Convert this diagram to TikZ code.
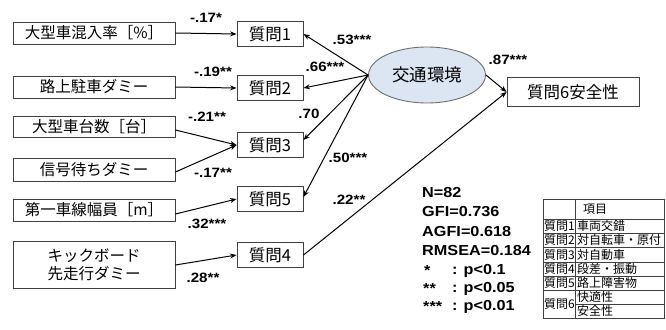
\documentclass[tikz,border=0pt]{standalone}
\usepackage{fontspec}
\setmainfont{Liberation Sans}
\newfontfamily\jp{Noto Sans CJK JP}
\newfontfamily\lab[FakeStretch=1.12]{Liberation Sans}
\usetikzlibrary{shapes.geometric,arrows.meta,calc}
\definecolor{boxline}{HTML}{404040}
\definecolor{ellfill}{HTML}{DCE6F2}
\definecolor{ellline}{HTML}{6E6E6E}
\begin{document}
\begin{tikzpicture}[x=1pt,y=-1pt,
  box/.style={draw=boxline, line width=0.9pt, fill=white, inner sep=0pt, font=\jp\fontsize{15.5}{18}\selectfont},
  lbox/.style={box, minimum width=162pt, minimum height=22pt},
  qbox/.style={box, minimum width=66pt, minimum height=25pt, font=\jp\fontsize{16.5}{18}\selectfont},
  lbl/.style={font=\lab\bfseries\fontsize{13.5}{15}\selectfont, inner sep=0pt},
  stat/.style={font=\lab\bfseries\fontsize{14.5}{16}\selectfont, inner sep=0pt, anchor=west},
  tab/.style={font=\jp\fontsize{12}{12}\selectfont, inner sep=0pt, anchor=west},
  arr/.style={-{Stealth[length=6.5pt,width=5pt]}, line width=1pt},
  tline/.style={draw=black!75, line width=0.6pt}
]
\useasboundingbox (0,0) rectangle (666,329);

% left boxes
\node[lbox] (a1) at (94,33) {大型車混入率［\%］};
\node[lbox] (a2) at (94,87) {路上駐車ダミー};
\node[lbox, minimum height=21pt] (a3) at (94,127) {大型車台数［台］};
\node[lbox, minimum height=23pt] (a4) at (94,170) {信号待ちダミー};
\node[lbox] (a5) at (94,210) {第一車線幅員［m］};
\node[lbox, minimum height=47pt, align=center] (a6) at (94,265) {キックボード\\先走行ダミー};

% question boxes
\node[qbox] (q1) at (270,34) {質問1};
\node[qbox] (q2) at (270,88) {質問2};
\node[qbox] (q3) at (270,145) {質問3};
\node[qbox] (q5) at (270,199) {質問5};
\node[qbox] (q4) at (270,255) {質問4};

% latent variable
\node[ellipse, draw=ellline, line width=0.9pt, fill=ellfill, minimum width=117pt, minimum height=56pt, inner sep=0pt,
      font=\jp\fontsize{17.5}{19}\selectfont] (el) at (427,75) {交通環境};

% outcome
\node[box, minimum width=132pt, minimum height=29pt, font=\jp\fontsize{16.5}{18}\selectfont] (q6) at (573,92) {質問6安全性};

% arrows from observed variables
\draw[arr] (a1.east) -- (q1.west);
\draw[arr] (a2.east) -- (q2.west);
\draw[arr] ($(a3.east)+(0,3)$) -- (q3.west);
\draw[arr] ($(a4.east)+(0,2)$) -- (q3.west);
\draw[arr] ($(a5.east)+(0,4)$) -- (q5.west);
\draw[arr] (a6.east) -- (q4.west);

% arrows from latent variable
\draw[arr] (el.west) -- (q1.east);
\draw[arr] (el.west) -- (q2.east);
\draw[arr] (el.west) -- ($(q3.east)+(0,-5)$);
\draw[arr] (el.west) -- ($(q5.east)+(0,-2)$);
\draw[arr] (el.east) -- (q6.west);
\draw[arr] (q4.east) -- (q6.west);

% path coefficients
\node[lbl] (l1) at (206,18) {-.17*};
\node[lbl] (l2) at (213,72) {-.19**};
\node[lbl] (l3) at (207,117) {-.21**};
\node[lbl] (l4) at (213,173) {-.17**};
\node[lbl] (l5) at (207,224) {.32***};
\node[lbl] (l6) at (203,278) {.28**};
\node[lbl] (l7) at (352,40) {.53***};
\node[lbl] (l8) at (325,67) {.66***};
\node[lbl] (l9) at (309,114) {.70};
\node[lbl] (l10) at (348,158) {.50***};
\node[lbl] (l11) at (349,200) {.22**};
\node[lbl] (l12) at (508,60) {.87***};

% fit statistics
\node[stat] (s1) at (422,193) {N=82};
\node[stat] (s2) at (422,212) {GFI=0.736};
\node[stat] (s3) at (422,232) {AGFI=0.618};
\node[stat] (s4) at (422,251) {RMSEA=0.184};
\node[stat] (p1a) at (424,271) {*};
\node[stat] (p1b) at (452,271) {: p<0.1};
\node[stat] (p2a) at (423,289) {**};
\node[stat] (p2b) at (452,289) {: p<0.05};
\node[stat] (p3a) at (423,307) {***};
\node[stat] (p3b) at (452,307) {: p<0.01};

% table
\draw[tline] (543,199) rectangle (664,318);
\draw[tline] (575,199) -- (575,318);
\foreach \yy in {219,233,247,262,276,290} {\draw[tline] (543,\yy) -- (664,\yy);}
\draw[tline] (575,304) -- (664,304);
\node[tab] (th) at (583,209) {項目};
\node[tab] (t1a) at (544,226) {質問1};
\node[tab] (t1b) at (577,226) {車両交錯};
\node[tab] (t2a) at (544,240) {質問2};
\node[tab] (t2b) at (577,240) {対自転車・原付};
\node[tab] (t3a) at (544,254.5) {質問3};
\node[tab] (t3b) at (577,254.5) {対自動車};
\node[tab] (t4a) at (544,269) {質問4};
\node[tab] (t4b) at (577,269) {段差・振動};
\node[tab] (t5a) at (544,283) {質問5};
\node[tab] (t5b) at (577,283) {路上障害物};
\node[tab] (t6a) at (544,304) {質問6};
\node[tab] (t6b) at (577,297) {快適性};
\node[tab] (t6c) at (577,311) {安全性};
\end{tikzpicture}
\end{document}
